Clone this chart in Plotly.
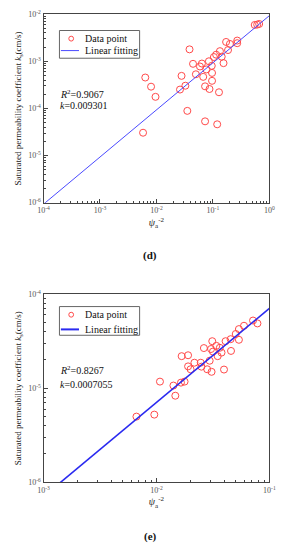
import plotly.graph_objects as go

# ---- Panel (d) data ----
x_d = [0.00634, 0.00802, 0.00962, 0.00579, 0.0385, 0.0278, 0.0261, 0.0325, 0.0352,
       0.0444, 0.0499, 0.0589, 0.0637, 0.0673, 0.0726, 0.0726, 0.0764, 0.0849, 0.0869,
       0.0953, 0.0964, 0.0964, 0.104, 0.114, 0.119, 0.128, 0.133, 0.143, 0.154, 0.171,
       0.185, 0.200, 0.269, 0.269, 0.550, 0.608, 0.658]
y_d = [4.52e-4, 2.89e-4, 1.76e-4, 3.05e-5, 1.79e-3, 4.90e-4, 2.51e-4, 3.03e-4, 8.87e-5,
       8.83e-4, 5.30e-4, 7.76e-4, 8.95e-4, 4.67e-4, 2.94e-4, 5.32e-5, 6.71e-4, 1.00e-3,
       2.58e-4, 8.02e-4, 5.66e-4, 3.85e-4, 1.23e-3, 1.38e-3, 4.60e-5, 2.20e-4, 1.64e-3,
       1.25e-3, 9.12e-4, 2.57e-3, 1.73e-3, 2.33e-3, 2.75e-3, 2.42e-3, 5.90e-3, 6.00e-3,
       6.19e-3]
fit_x_d = [1e-4, 1.0]
fit_y_d = [9.301e-7, 9.301e-3]
xticks_d = [1e-4, 1e-3, 1e-2, 1e-1, 1]
xtick_text_d = ["10<sup>-4</sup>", "10<sup>-3</sup>", "10<sup>-2</sup>", "10<sup>-1</sup>", "10<sup>0</sup>"]
yticks_d = [1e-6, 1e-5, 1e-4, 1e-3, 1e-2]
ytick_text_d = ["10<sup>-6</sup>", "10<sup>-5</sup>", "10<sup>-4</sup>", "10<sup>-3</sup>", "10<sup>-2</sup>"]

# ---- Panel (e) data ----
x_e = [0.00665, 0.00957, 0.01074, 0.01413, 0.01469, 0.01648, 0.01774, 0.01671, 0.01905,
       0.01905, 0.02004, 0.02168, 0.02466, 0.02500, 0.02630, 0.02812, 0.02958, 0.03076,
       0.03041, 0.03119, 0.03162, 0.03388, 0.03483, 0.03639, 0.03767, 0.03963, 0.04093,
       0.04539, 0.04571, 0.05035, 0.05370, 0.05370, 0.05957, 0.07161, 0.07834]
y_e = [4.99e-6, 5.24e-6, 1.175e-5, 1.067e-5, 8.32e-6, 1.146e-5, 1.175e-5, 2.19e-5, 2.24e-5,
       1.706e-5, 1.589e-5, 1.866e-5, 1.866e-5, 1.694e-5, 2.67e-5, 1.589e-5, 1.959e-5,
       1.493e-5, 2.61e-5, 3.16e-5, 2.45e-5, 2.82e-5, 2.19e-5, 2.69e-5, 2.39e-5, 1.578e-5,
       3.16e-5, 3.32e-5, 2.49e-5, 3.77e-5, 4.25e-5, 3.27e-5, 4.61e-5, 5.24e-5, 4.88e-5]
fit_x_e = [1e-3, 1e-1]
fit_y_e = [7.055e-7, 7.055e-5]
xticks_e = [1e-3, 1e-2, 1e-1]
xtick_text_e = ["10<sup>-3</sup>", "10<sup>-2</sup>", "10<sup>-1</sup>"]
yticks_e = [1e-6, 1e-5, 1e-4]
ytick_text_e = ["10<sup>-6</sup>", "10<sup>-5</sup>", "10<sup>-4</sup>"]

SERIF = "Liberation Serif, Times New Roman, serif"
RED = "#ff4a4a"
BLUE_D = "#4a4aff"
BLUE_E = "#2a2af0"

W, H = 285, 550


def minor_vals(lo, hi):
    vals = []
    for e in range(lo, hi):
        for m in range(2, 10):
            vals.append(m * 10.0 ** e)
    return vals


fig = go.Figure()
fig.add_trace(go.Scatter(x=x_d, y=y_d, mode="markers", name="Data point",
                         marker=dict(symbol="circle-open", size=7, color=RED, line=dict(width=1)),
                         xaxis="x", yaxis="y", showlegend=False))
fig.add_trace(go.Scatter(x=fit_x_d, y=fit_y_d, mode="lines", name="Linear fitting",
                         line=dict(color=BLUE_D, width=1), xaxis="x", yaxis="y", showlegend=False))
fig.add_trace(go.Scatter(x=x_e, y=y_e, mode="markers", name="Data point",
                         marker=dict(symbol="circle-open", size=7, color=RED, line=dict(width=1)),
                         xaxis="x2", yaxis="y2", showlegend=False))
fig.add_trace(go.Scatter(x=fit_x_e, y=fit_y_e, mode="lines", name="Linear fitting",
                         line=dict(color=BLUE_E, width=1.6), xaxis="x2", yaxis="y2", showlegend=False))

xdom = [39.3 / W, 276 / W]
ydom_d = [1 - 200.7 / H, 1 - 8.3 / H]
ydom_e = [1 - 486 / H, 1 - 294 / H]


def axis(rng, tv, tt, mlo, mhi, **kw):
    d = dict(type="log", range=rng, showline=True, linecolor="#444", linewidth=1.2, mirror=True,
             ticks="inside", ticklen=4, tickcolor="#444", showgrid=False, zeroline=False,
             tickmode="array", tickvals=tv, ticktext=tt, ticklabeloverflow="allow",
             tickfont=dict(family=SERIF, size=8, color="#555"),
             minor=dict(ticks="inside", ticklen=2, tickcolor="#444", tickmode="array",
                        tickvals=minor_vals(mlo, mhi), showgrid=False))
    d.update(kw)
    return d


ytitle = "Saturated permeability coefficient <i>k</i><sub>s</sub>(cm/s)"
xtitle = "<i>ψ</i><sub>a</sub><sup>-2</sup>"
tfont_x = dict(family=SERIF, size=10, color="#222")
tfont_y = dict(family=SERIF, size=9, color="#222")

fig.update_layout(
    width=W, height=H, margin=dict(l=0, r=0, t=0, b=0),
    paper_bgcolor="white", plot_bgcolor="white", showlegend=False,
    xaxis=axis([-4, 0], xticks_d, xtick_text_d, -4, 0, domain=xdom, anchor="y",
               title=dict(text=xtitle, font=tfont_x, standoff=4)),
    yaxis=axis([-6, -2], yticks_d, ytick_text_d, -6, -2, domain=ydom_d, anchor="x",
               title=dict(text=ytitle, font=tfont_y, standoff=4)),
    xaxis2=axis([-3, -1], xticks_e, xtick_text_e, -3, -1, domain=xdom, anchor="y2",
                title=dict(text=xtitle, font=tfont_x, standoff=4)),
    yaxis2=axis([-6, -4], yticks_e, ytick_text_e, -6, -4, domain=ydom_e, anchor="x2",
                title=dict(text=ytitle, font=tfont_y, standoff=4)),
)

# ---- manual legends (paper coordinates) ----
def px2x(px):
    return px / W


def py2y(py):
    return 1 - py / H


leg_font = dict(family=SERIF, size=10, color="#111")
for (top, bot, ymark, yline, lw, lc) in [(25, 53.3, 33.3, 45.5, 1, BLUE_D),
                                         (306.7, 336, 315, 330, 2, BLUE_E)]:
    fig.add_shape(type="rect", xref="paper", yref="paper",
                  x0=px2x(56), x1=px2x(140), y0=py2y(bot), y1=py2y(top),
                  line=dict(color="#666", width=1), fillcolor="white", layer="above")
    fig.add_shape(type="circle", xref="paper", yref="paper",
                  x0=px2x(65.8), x1=px2x(70.8), y0=py2y(ymark + 2.5), y1=py2y(ymark - 2.5),
                  line=dict(color=RED, width=1), layer="above")
    fig.add_shape(type="line", xref="paper", yref="paper",
                  x0=px2x(57.5), x1=px2x(76.5), y0=py2y(yline), y1=py2y(yline),
                  line=dict(color=lc, width=lw), layer="above")
    fig.add_annotation(text="Data point", x=px2x(81), y=py2y(ymark), xref="paper", yref="paper",
                       xanchor="left", yanchor="middle", showarrow=False, font=leg_font)
    fig.add_annotation(text="Linear fitting", x=px2x(81), y=py2y(yline), xref="paper", yref="paper",
                       xanchor="left", yanchor="middle", showarrow=False, font=leg_font)

ann_font = dict(family=SERIF, size=10, color="#111")
anns = [
    ("<i>R</i><sup>2</sup>=0.9067", 89.5),
    ("<i>k</i>=0.009301", 101.5),
    ("<i>R</i><sup>2</sup>=0.8267", 371.5),
    ("<i>k</i>=0.0007055", 386),
]
for txt, py in anns:
    fig.add_annotation(text=txt, x=px2x(55), y=py2y(py), xref="paper", yref="paper",
                       xanchor="left", yanchor="middle", showarrow=False, font=ann_font)

for txt, py in [("<b>(d)</b>", 255), ("<b>(e)</b>", 541.5)]:
    fig.add_annotation(text=txt, x=px2x(151), y=py2y(py), xref="paper", yref="paper",
                       xanchor="center", yanchor="middle", showarrow=False,
                       font=dict(family=SERIF, size=11, color="#111"))

fig.write_html("out.html", config={"displayModeBar": False},
               post_script="document.body.style.margin='0';document.body.style.overflow='hidden';")
